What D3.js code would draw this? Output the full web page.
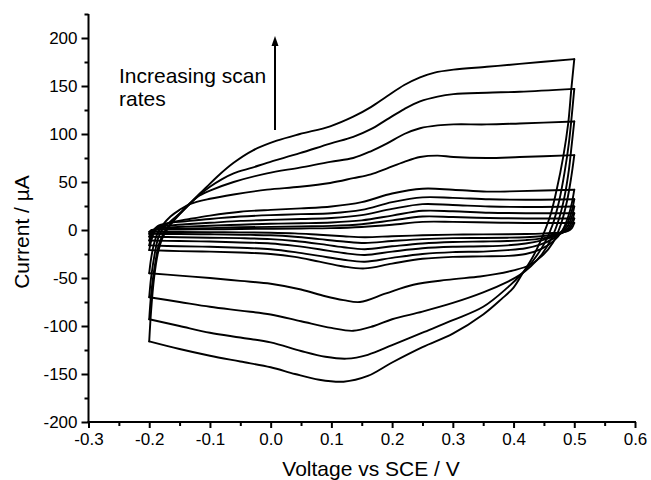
<!DOCTYPE html>
<html><head><meta charset="utf-8">
<script src="https://cdn.jsdelivr.net/npm/d3@7"></script>
<style>body{margin:0;background:#fff}svg{display:block}text{font-family:"Liberation Sans",Arial,sans-serif;fill:#000}</style>
</head><body>
<svg id="c" width="651" height="480"></svg>
<script>
// Tick values
const xTicks = [-0.3,-0.2,-0.1,0.0,0.1,0.2,0.3,0.4,0.5,0.6];
const xTickLabels = ["-0.3","-0.2","-0.1","0.0","0.1","0.2","0.3","0.4","0.5","0.6"];
const yTicks = [-200,-150,-100,-50,0,50,100,150,200];
const yTickLabels = ["-200","-150","-100","-50","0","50","100","150","200"];

// Cyclic voltammograms: [potential V, current µA], forward scan then reverse scan
const cv500 = [[-0.2,-116],[-0.197,-85],[-0.192,-50],[-0.186,-25],[-0.178,-8],[-0.168,3],[-0.155,13],[-0.138,24],[-0.12,36],[-0.105,45],[-0.089,55],[-0.061,70],[-0.029,83],[0.01,93],[0.048,100],[0.098,108],[0.136,118],[0.165,128],[0.191,139],[0.22,151],[0.246,159],[0.27,164],[0.301,167],[0.356,170],[0.41,173],[0.5,178],
  [0.495,146],[0.49,111],[0.482,77],[0.471,42],[0.46,14],[0.444,-12],[0.43,-30],[0.416,-44],[0.4,-60],[0.38,-72],[0.35,-88],[0.3,-108],[0.25,-122],[0.2,-138],[0.16,-152],[0.12,-158],[0.08,-156],[0.04,-150],[0,-143],[-0.05,-137],[-0.1,-131],[-0.15,-124],[-0.2,-116]];
const cv400 = [[-0.2,-93],[-0.197,-68],[-0.191,-38],[-0.184,-15],[-0.176,-3],[-0.165,7],[-0.15,17],[-0.138,25],[-0.12,35],[-0.1,45],[-0.08,53],[-0.061,59],[-0.03,65],[-0.006,70],[0.048,80],[0.098,90],[0.136,97],[0.165,105],[0.191,115],[0.22,126],[0.246,134],[0.275,139],[0.301,141.5],[0.356,143],[0.41,144],[0.5,147],
  [0.496,120],[0.491,90],[0.484,60],[0.475,30],[0.464,5],[0.45,-15],[0.432,-32],[0.416,-44],[0.39,-60],[0.35,-80],[0.3,-94],[0.25,-107],[0.2,-120],[0.16,-130],[0.125,-134],[0.09,-132],[0.05,-126],[0,-117],[-0.05,-112],[-0.1,-107],[-0.15,-100],[-0.2,-93]];
const cv300 = [[-0.2,-70],[-0.197,-50],[-0.191,-25],[-0.185,-8],[-0.178,1],[-0.165,9],[-0.15,17],[-0.135,26],[-0.122,34],[-0.1,41],[-0.061,50],[-0.006,59],[0.048,65],[0.098,71],[0.136,75],[0.165,82],[0.191,90],[0.22,100],[0.246,106],[0.275,109],[0.301,110],[0.356,110],[0.41,111],[0.5,113],
  [0.496,90],[0.491,62],[0.484,35],[0.475,12],[0.463,-8],[0.447,-25],[0.428,-38],[0.41,-47],[0.39,-54],[0.35,-65],[0.3,-76],[0.25,-85],[0.2,-93],[0.17,-100],[0.136,-105],[0.1,-102],[0.05,-95],[0,-88],[-0.05,-84],[-0.1,-80],[-0.15,-75],[-0.2,-70]];
const cv200 = [[-0.2,-45],[-0.197,-30],[-0.192,-14],[-0.186,-3],[-0.178,5],[-0.165,14],[-0.15,21],[-0.133,27],[-0.1,32.5],[-0.061,37],[-0.006,42],[0.048,45],[0.098,49],[0.136,54],[0.165,58],[0.191,64],[0.22,71],[0.246,76],[0.275,77.5],[0.301,76],[0.356,75],[0.41,76],[0.5,78],
  [0.495,55],[0.488,30],[0.478,6],[0.465,-13],[0.447,-27],[0.425,-37],[0.4,-42],[0.37,-46],[0.345,-48.5],[0.29,-52],[0.235,-57],[0.19,-66],[0.147,-75],[0.12,-73],[0.09,-69],[0.05,-62],[0,-56],[-0.05,-53],[-0.1,-50],[-0.15,-47.5],[-0.2,-45]];
const cv100 = [[-0.2,-21],[-0.197,-12],[-0.193,-4],[-0.188,1],[-0.178,5],[-0.16,8.5],[-0.138,11],[-0.1,15],[-0.05,19],[0,21],[0.05,22.5],[0.1,24.5],[0.15,29],[0.2,38],[0.25,43],[0.3,42],[0.356,40],[0.41,40.5],[0.5,42],
  [0.496,28],[0.49,14],[0.48,-1],[0.465,-12],[0.445,-20],[0.42,-25],[0.39,-27],[0.35,-27.5],[0.3,-28],[0.25,-30],[0.2,-35],[0.155,-40],[0.12,-38],[0.08,-33],[0.04,-28],[0,-25],[-0.05,-23.5],[-0.1,-22.5],[-0.15,-22],[-0.2,-21]];
const cvA = [[-0.2,-16],[-0.197,-8],[-0.193,-1],[-0.186,4],[-0.17,7],[-0.14,9],[-0.1,11.5],[-0.05,14],[0,15.5],[0.05,16.5],[0.1,17.5],[0.15,21],[0.2,29],[0.25,34],[0.3,33.5],[0.36,32],[0.42,31.5],[0.5,32],
  [0.496,20],[0.49,9],[0.48,-1],[0.465,-9],[0.445,-15],[0.42,-19],[0.39,-21],[0.35,-22.5],[0.3,-23],[0.25,-25],[0.2,-29],[0.155,-33],[0.12,-31],[0.08,-27],[0.04,-23],[0,-20],[-0.05,-18.5],[-0.1,-17.5],[-0.15,-17],[-0.2,-16]];
const cvB = [[-0.2,-11],[-0.197,-5],[-0.193,0],[-0.186,3],[-0.17,4.5],[-0.14,6],[-0.1,7.5],[-0.05,9.5],[0,10.5],[0.05,11.5],[0.1,12.5],[0.15,15.5],[0.2,22],[0.25,27],[0.3,26],[0.36,24.5],[0.42,24],[0.5,24.5],
  [0.496,14],[0.49,5],[0.48,-2],[0.465,-7],[0.445,-11],[0.42,-14],[0.39,-16],[0.35,-17],[0.3,-17.5],[0.25,-19],[0.2,-22.5],[0.155,-26],[0.12,-24],[0.08,-20],[0.04,-16.5],[0,-14],[-0.05,-13],[-0.1,-12],[-0.15,-11.5],[-0.2,-11]];
const cvC = [[-0.2,-7],[-0.197,-3],[-0.193,0],[-0.186,1.5],[-0.17,2.5],[-0.14,3.5],[-0.1,4.5],[-0.05,5.5],[0,6.5],[0.05,7],[0.1,7.8],[0.15,10],[0.2,15],[0.25,20],[0.3,19.5],[0.36,18],[0.42,17.5],[0.5,17.5],
  [0.496,9],[0.49,2],[0.48,-3],[0.465,-6.5],[0.445,-9],[0.42,-10.5],[0.39,-11.5],[0.35,-12],[0.3,-12.5],[0.25,-14],[0.2,-17],[0.155,-20],[0.12,-18],[0.08,-14.5],[0.04,-11.5],[0,-9.5],[-0.05,-8.5],[-0.1,-8],[-0.15,-7.5],[-0.2,-7]];
const cvD = [[-0.2,-4],[-0.196,-1],[-0.19,0.5],[-0.17,1],[-0.14,1.5],[-0.1,2],[-0.05,2.8],[0,3.3],[0.05,3.8],[0.1,4.3],[0.15,6],[0.2,10],[0.25,14],[0.3,13.5],[0.36,12.5],[0.42,12],[0.5,12],
  [0.496,5],[0.49,0],[0.48,-3],[0.465,-5],[0.445,-6.5],[0.42,-7.5],[0.39,-8],[0.35,-8.3],[0.3,-8.5],[0.25,-9.5],[0.2,-11.5],[0.155,-13.5],[0.12,-12],[0.08,-9.5],[0.04,-7],[0,-5.5],[-0.05,-5],[-0.1,-4.5],[-0.15,-4.2],[-0.2,-4]];
const cvE = [[-0.2,-2],[-0.196,0],[-0.19,0.3],[-0.15,0.5],[-0.1,0.7],[-0.05,1],[0,1.3],[0.05,1.6],[0.1,2],[0.15,3.2],[0.2,5.5],[0.25,8.5],[0.3,8.5],[0.36,7.8],[0.42,7.3],[0.5,7.3],
  [0.496,2],[0.49,-1],[0.48,-2.5],[0.465,-3.2],[0.445,-3.8],[0.42,-4.2],[0.39,-4.5],[0.35,-4.6],[0.3,-4.8],[0.25,-5.5],[0.2,-6.5],[0.155,-7.5],[0.12,-6.5],[0.08,-5],[0.04,-3.5],[0,-2.8],[-0.05,-2.5],[-0.1,-2.3],[-0.15,-2.1],[-0.2,-2]];
const curves = [cvE, cvD, cvC, cvB, cvA, cv100, cv200, cv300, cv400, cv500];

const annotation = ["Increasing scan", "rates"];

const svg = d3.select("#c");
const x = d3.scaleLinear().domain([-0.3, 0.6]).range([88.5, 635]);
const y = d3.scaleLinear().domain([-200, 225]).range([422, 14]);

// split each loop at the vertex potential (0.5 V) so the turning corner stays sharp
const segments = [];
curves.forEach(c => {
  const k = c.findIndex(p => p[0] === 0.5);
  segments.push(c.slice(0, k + 1), c.slice(k));
});
const line = d3.line().x(d => x(d[0])).y(d => y(d[1])).curve(d3.curveCatmullRom.alpha(0.5));
svg.append("g").selectAll("path").data(segments).join("path")
  .attr("d", line).attr("fill", "none").attr("stroke", "#000").attr("stroke-width", 1.9)
  .attr("stroke-linejoin", "round").attr("stroke-linecap", "round");

// Axes
const xAxis = svg.append("g").attr("transform", `translate(0,${y(-200)})`)
  .call(d3.axisBottom(x).tickValues(xTicks).tickFormat((d,i) => xTickLabels[i]).tickSize(6).tickPadding(5));
const xMinor = svg.append("g").attr("transform", `translate(0,${y(-200)})`)
  .call(d3.axisBottom(x).tickValues(xTicks.slice(0,-1).map(v => v + 0.05)).tickFormat("").tickSize(4));
const yAxis = svg.append("g").attr("transform", `translate(${x(-0.3)},0)`)
  .call(d3.axisLeft(y).tickValues(yTicks).tickFormat((d,i) => yTickLabels[i]).tickSize(7).tickPadding(4));
const yMinor = svg.append("g").attr("transform", `translate(${x(-0.3)},0)`)
  .call(d3.axisLeft(y).tickValues(yTicks.map(v => v + 25)).tickFormat("").tickSize(4));
[xAxis, xMinor, yAxis, yMinor].forEach(g => {
  g.select(".domain").attr("stroke", "#000").attr("stroke-width", 2);
  g.selectAll(".tick line").attr("stroke", "#000").attr("stroke-width", 2);
  g.selectAll("text").style("font-size", "17px").style("font-family", '"Liberation Sans",Arial,sans-serif');
});
xMinor.select(".domain").remove(); yMinor.select(".domain").remove();
xAxis.select(".domain").attr("d", `M${x(-0.3)-1},0H${x(0.6)+1}`);
yAxis.select(".domain").attr("d", `M0,${y(-200)+1}V${y(225)}`);

// Axis titles
svg.append("text").attr("x", 371).attr("y", 476).attr("text-anchor", "middle")
  .style("font-size", "21px").text("Voltage vs SCE / V");
svg.append("text").attr("transform", `translate(29,232) rotate(-90)`).attr("text-anchor", "middle")
  .style("font-size", "21px").text("Current / µA");

// Annotation
svg.append("text").attr("x", 119).attr("y", 83).style("font-size", "21px").text(annotation[0]);
svg.append("text").attr("x", 119).attr("y", 106).style("font-size", "21px").text(annotation[1]);
svg.append("line").attr("x1", 275).attr("x2", 275).attr("y1", 130).attr("y2", 44)
  .attr("stroke", "#000").attr("stroke-width", 2);
svg.append("path").attr("d", "M275,36 L271.5,46 L278.5,46 Z").attr("fill", "#000");
</script>
</body></html>
